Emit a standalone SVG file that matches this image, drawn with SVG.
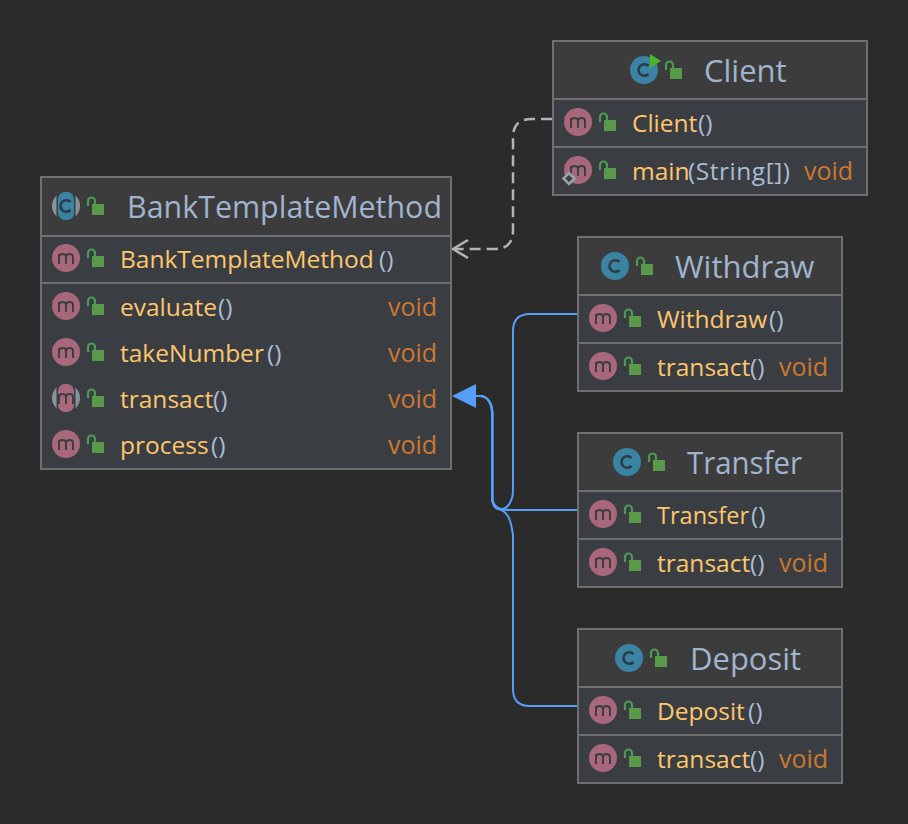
<svg xmlns="http://www.w3.org/2000/svg" width="908" height="824" viewBox="0 0 908 824">
<style>
text{font-family:"Open Sans","Noto Sans","Liberation Sans",sans-serif}
.box{fill:#3a3e42;stroke:#6f6f6f;stroke-width:2}
.head{fill:#3c3c3c}
.div{stroke:#6f6f6f;stroke-width:2;fill:none}
.t{font-size:31px;fill:#a0b4cf}
.m{font-size:24.5px;fill:#ffc66d}
.p{fill:#a9bdd4}
.v{font-size:25px;fill:#cc7832}
.inh{fill:none;stroke:#589df6;stroke-width:2}
.dep{fill:none;stroke:#b4b4b4;stroke-width:2.500;stroke-dasharray:11 6}
</style>
<defs>
<g id="lock"><path d="M-8,0 v-5 a3.500,3.500 0 0 1 7,0 v3" fill="none" stroke="#499c54" stroke-width="2.200"/><rect x="-4" y="-2" width="12" height="11" fill="#59994a"/></g>
<path id="mg" d="M-7,6 V-4 M-7,-1 q0,-3 3.500,-3 q3.500,0 3.500,3 V6 M0,-1 q0,-3 3.500,-3 q3.500,0 3.500,3 V6" fill="none" stroke="#3c3f41" stroke-width="2"/>
<g id="mi"><circle r="14" fill="#a8677b"/><use href="#mg"/></g>
<path id="cg" d="M4.500,-4 a5.800,5.800 0 1 0 0,8" fill="none" stroke="#2b3c48" stroke-width="2.600"/>
<g id="ci"><circle r="14" fill="#3b83a3"/><use href="#cg"/></g>
</defs>
<rect width="908" height="824" fill="#2b2b2b"/>

<g id="connectors">
<path class="dep" d="M552,119 H532 C519,119 513,125 513,138 V230 C513,243 507,249 494,249 H454"/>
<path d="M468,240 L453,249 L468,258" fill="none" stroke="#b4b4b4" stroke-width="2.500"/>
<path class="inh" d="M577,314 H530 Q513,314 513,331 V490 C513,500 508,510 500,509 C496,508 494,506 492.500,500 V415 C492.500,404 488,396 480,396 H476"/>
<path class="inh" d="M577,510 H510 C500,510 494,508 492.500,500 V415 C492.500,404 488,396 480,396 H476"/>
<path class="inh" d="M577,706 H530 Q513,706 513,689 V535 C511,520 508,511 498,509 C495,508 493,506 492,500 V415 C492,404 488,396 480,396 H476"/>
<path d="M452,396 L476,384 V408 Z" fill="#589df6"/>
</g>

<g id="BankTemplateMethod">
<rect class="box" x="41" y="177" width="410" height="292"/>
<rect class="head" x="42" y="178" width="408" height="58"/>
<path class="div" d="M41,236 H451 M41,283 H451"/>
<circle cx="66" cy="206" r="14" fill="#87939a"/>
<rect x="56.500" y="190" width="19" height="32" fill="#3c3c3c"/>
<rect x="58" y="192" width="16" height="28" rx="7" fill="#3b83a3"/>
<use href="#cg" x="66" y="206"/>
<use href="#lock" x="96" y="206"/>
<text class="t" x="127" y="218" textLength="315" lengthAdjust="spacingAndGlyphs">BankTemplateMethod</text>
<use href="#mi" x="66" y="258"/><use href="#lock" x="96" y="258"/>
<text class="m" x="120" y="268">BankTemplateMethod<tspan class="p" x="379">()</tspan></text>
<use href="#mi" x="66" y="306"/><use href="#lock" x="96" y="306"/>
<text class="m" x="120" y="316">evaluate<tspan class="p" x="218">()</tspan></text><text class="v" x="388" y="316">void</text>
<use href="#mi" x="66" y="352"/><use href="#lock" x="96" y="352"/>
<text class="m" x="120" y="362">takeNumber<tspan class="p" x="267">()</tspan></text><text class="v" x="388" y="362">void</text>
<circle cx="66" cy="398" r="14" fill="#87939a"/>
<rect x="56.500" y="382" width="19" height="32" fill="#3a3e42"/>
<rect x="58" y="384" width="16" height="28" rx="7" fill="#a8677b"/>
<use href="#mg" x="66" y="398"/>
<use href="#lock" x="96" y="398"/>
<text class="m" x="120" y="408">transact<tspan class="p" x="213">()</tspan></text><text class="v" x="388" y="408">void</text>
<use href="#mi" x="66" y="444"/><use href="#lock" x="96" y="444"/>
<text class="m" x="120" y="454">process<tspan class="p" x="211">()</tspan></text><text class="v" x="388" y="454">void</text>
</g>

<g id="Client">
<rect class="box" x="553" y="41" width="314" height="154"/>
<rect class="head" x="554" y="42" width="312" height="57"/>
<path class="div" d="M553,99 H867 M553,147 H867"/>
<use href="#ci" x="644" y="70"/>
<path d="M650,54 L661,61 L650,68 Z" fill="#4fb22e"/>
<use href="#lock" x="674" y="70"/>
<text class="t" x="704" y="82">Client</text>
<use href="#mi" x="578" y="122"/><use href="#lock" x="608" y="122"/>
<text class="m" x="632" y="132">Client<tspan class="p" x="698">()</tspan></text>
<use href="#mi" x="578" y="170"/><use href="#lock" x="608" y="170"/>
<path d="M569,173 L574.500,178.500 L569,184 L563.500,178.500 Z" fill="#3c3f41" stroke="#97a3aa" stroke-width="2.600"/>
<text class="m" x="632" y="180">main<tspan class="p" x="688" textLength="102">(String[])</tspan></text><text class="v" x="804" y="180">void</text>
</g>

<g id="Withdraw">
<rect class="box" x="578" y="237" width="264" height="154"/>
<rect class="head" x="579" y="238" width="262" height="57"/>
<path class="div" d="M578,295 H842 M578,343 H842"/>
<use href="#ci" x="615" y="266"/><use href="#lock" x="645" y="266"/>
<text class="t" x="675" y="278">Withdraw</text>
<use href="#mi" x="603" y="318"/><use href="#lock" x="633" y="318"/>
<text class="m" x="657" y="328">Withdraw<tspan class="p" x="769">()</tspan></text>
<use href="#mi" x="603" y="366"/><use href="#lock" x="633" y="366"/>
<text class="m" x="657" y="376">transact<tspan class="p" x="750">()</tspan></text><text class="v" x="779" y="376">void</text>
</g>

<g id="Transfer">
<rect class="box" x="578" y="433" width="264" height="154"/>
<rect class="head" x="579" y="434" width="262" height="57"/>
<path class="div" d="M578,491 H842 M578,539 H842"/>
<use href="#ci" x="627" y="462"/><use href="#lock" x="657" y="462"/>
<text class="t" x="687" y="474" textLength="115" lengthAdjust="spacingAndGlyphs">Transfer</text>
<use href="#mi" x="603" y="514"/><use href="#lock" x="633" y="514"/>
<text class="m" x="657" y="524"><tspan textLength="92" lengthAdjust="spacingAndGlyphs">Transfer</tspan><tspan class="p" x="751">()</tspan></text>
<use href="#mi" x="603" y="562"/><use href="#lock" x="633" y="562"/>
<text class="m" x="657" y="572">transact<tspan class="p" x="750">()</tspan></text><text class="v" x="779" y="572">void</text>
</g>

<g id="Deposit">
<rect class="box" x="578" y="629" width="264" height="154"/>
<rect class="head" x="579" y="630" width="262" height="57"/>
<path class="div" d="M578,687 H842 M578,735 H842"/>
<use href="#ci" x="629" y="658"/><use href="#lock" x="659" y="658"/>
<text class="t" x="690" y="670">Deposit</text>
<use href="#mi" x="603" y="710"/><use href="#lock" x="633" y="710"/>
<text class="m" x="657" y="720">Deposit<tspan class="p" x="748">()</tspan></text>
<use href="#mi" x="603" y="758"/><use href="#lock" x="633" y="758"/>
<text class="m" x="657" y="768">transact<tspan class="p" x="750">()</tspan></text><text class="v" x="779" y="768">void</text>
</g>
</svg>
